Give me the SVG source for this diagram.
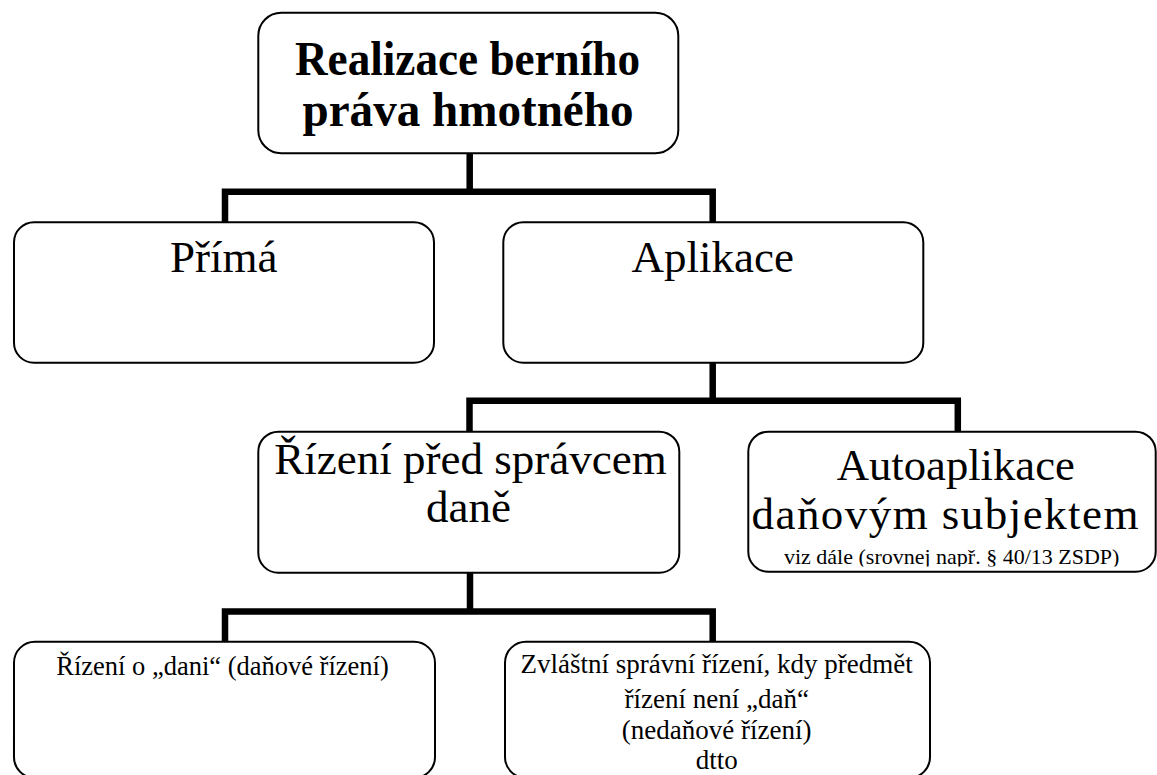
<svg xmlns="http://www.w3.org/2000/svg" width="1157" height="775" viewBox="0 0 1157 775">
<style>
.box{fill:#fff;stroke:#000;stroke-width:2}
.con{fill:none;stroke:#000;stroke-width:6.5;stroke-linejoin:miter;stroke-linecap:butt}
.t{font-family:"Liberation Serif","Times New Roman",serif;fill:#000;text-anchor:middle}
.big{font-size:45px}
.title{font-size:48px;font-weight:bold}
.mid{font-size:27px}
.small{font-size:22px}
</style>
<defs>
<clipPath id="clipViz"><rect x="748" y="540" width="410" height="26.5"/></clipPath>
</defs>
<g id="connectors">
<path class="con" d="M469.7,153 V191.7"/>
<path class="con" d="M225,222 V191.7 H712.7 V222"/>
<path class="con" d="M712.7,362.7 V400.7"/>
<path class="con" d="M469.5,431.7 V400.7 H957.8 V431.7"/>
<path class="con" d="M470,572.7 V611.5"/>
<path class="con" d="M225,641.7 V611.5 H712.7 V641.7"/>
</g>
<g id="node-root">
<rect class="box" x="258.3" y="12.7" width="420" height="140.6" rx="23"/>
<text class="t title" x="467.5" y="75" textLength="345" lengthAdjust="spacingAndGlyphs">Realizace berního</text>
<text class="t title" x="468" y="126" textLength="331" lengthAdjust="spacingAndGlyphs">práva hmotného</text>
</g>
<g id="node-prima">
<rect class="box" x="14" y="222.3" width="420" height="140.4" rx="20"/>
<text class="t big" x="223.7" y="271.7">Přímá</text>
</g>
<g id="node-aplikace">
<rect class="box" x="503.3" y="222.3" width="420" height="140.4" rx="20"/>
<text class="t big" x="712.8" y="271.7">Aplikace</text>
</g>
<g id="node-rizeni">
<rect class="box" x="258.3" y="431.7" width="421" height="141" rx="20"/>
<text class="t big" x="470.5" y="474">Řízení před správcem</text>
<text class="t big" x="468.5" y="521.7">daně</text>
</g>
<g id="node-autoaplikace">
<rect class="box" x="748.3" y="431.7" width="407.4" height="140" rx="20"/>
<text class="t big" x="955.8" y="480" textLength="238" lengthAdjust="spacingAndGlyphs">Autoaplikace</text>
<text class="t big" x="945" y="529" textLength="387" lengthAdjust="spacing">daňovým subjektem</text>
<text class="t small" x="951.7" y="564" clip-path="url(#clipViz)">viz dále (srovnej např. § 40/13 ZSDP)</text>
</g>
<g id="node-dan">
<rect class="box" x="14" y="641.7" width="421" height="136.3" rx="21"/>
<text class="t mid" x="222.5" y="675" style="font-size:26.5px">Řízení o „dani“ (daňové řízení)</text>
</g>
<g id="node-nedan">
<rect class="box" x="505" y="641.7" width="425" height="136.3" rx="21"/>
<text class="t mid" x="716.7" y="673.3">Zvláštní správní řízení, kdy předmět</text>
<text class="t mid" x="716.7" y="707.5">řízení není „daň“</text>
<text class="t mid" x="716.7" y="738.5">(nedaňové řízení)</text>
<text class="t mid" x="716.7" y="769">dtto</text>
</g>
</svg>
